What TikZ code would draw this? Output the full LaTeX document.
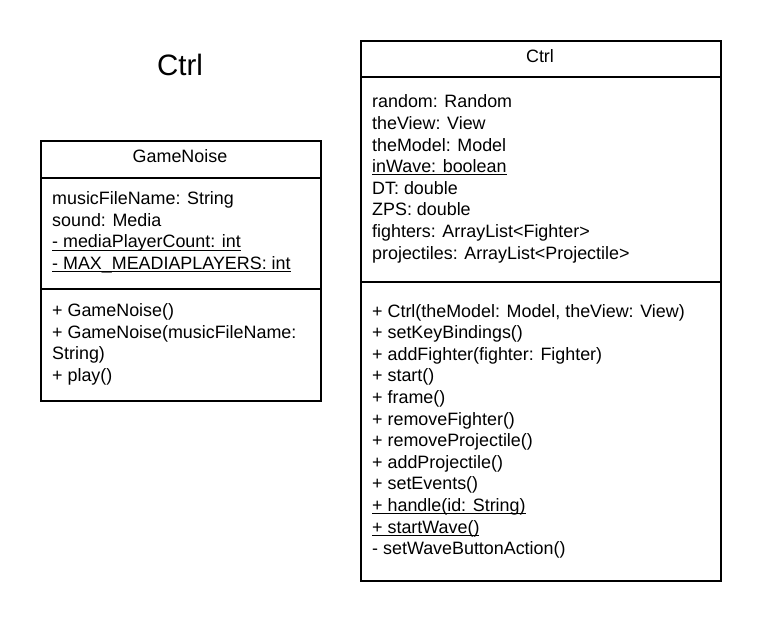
\documentclass[tikz,border=0pt]{standalone}
\usepackage{fontspec}
\setmainfont{Liberation Sans}
\newcommand\myul[1]{\setbox0\hbox{#1}\rlap{\rule[-2.4pt]{\wd0}{0.9pt}}\box0}
\begin{document}
\begin{tikzpicture}[x=1pt,y=-1pt,
  box/.style={draw=black,line width=1.8pt,anchor=north west,inner sep=0pt,fill=white},
  sep/.style={line width=1.8pt},
  txt/.style={anchor=base west,inner sep=0pt,font=\fontsize{17.9}{21.5}\selectfont},
  head/.style={anchor=base,inner sep=0pt,font=\fontsize{17.9}{21.5}\selectfont},
  big/.style={anchor=base,inner sep=0pt,font=\fontsize{29.5}{34}\selectfont}]
\useasboundingbox (0,0) rectangle (760,620);
\fill[white] (0,0) rectangle (760,620);
% title
\node[big] (title) at (180,76) {Ctrl};
% GameNoise class
\node[box,minimum width=280pt,minimum height=260pt] (gn) at (40,140) {};
\draw[sep] (40,178) -- (320,178);
\draw[sep] (40,289) -- (320,289);
\node[head] (gnh) at (180,163) {GameNoise};
\node[txt] (g1) at (52,205) {musicFileName: String};
\node[txt] (g2) at (52,226.5) {sound: Media};
\node[txt] (g3) at (52,248) {\myul{- mediaPlayerCount: int}};
\node[txt] (g4) at (52,269.5) {\myul{- MAX\_MEADIAPLAYERS: int}};
\node[txt] (m1) at (52,316.5) {+ GameNoise()};
\node[txt] (m2) at (52,338) {+ GameNoise(musicFileName:};
\node[txt] (m3) at (52,359.5) {String)};
\node[txt] (m4) at (52,381) {+ play()};
% Ctrl class
\node[box,minimum width=360pt,minimum height=540pt] (ct) at (360,40) {};
\draw[sep] (360,77) -- (720,77);
\draw[sep] (360,282) -- (720,282);
\node[head] (cth) at (540,63) {Ctrl};
\node[txt] (a1) at (372,108) {random: Random};
\node[txt] (a2) at (372,129.6) {theView: View};
\node[txt] (a3) at (372,151.2) {theModel: Model};
\node[txt] (a4) at (372,172.8) {\myul{inWave: boolean}};
\node[txt] (a5) at (372,194.4) {DT: double};
\node[txt] (a6) at (372,216) {ZPS: double};
\node[txt] (a7) at (372,237.6) {fighters: ArrayList<Fighter>};
\node[txt] (a8) at (372,259.2) {projectiles: ArrayList<Projectile>};
\node[txt] (b1) at (372,317) {+ Ctrl(theModel: Model, theView: View)};
\node[txt] (b2) at (372,338.6) {+ setKeyBindings()};
\node[txt] (b3) at (372,360.2) {+ addFighter(fighter: Fighter)};
\node[txt] (b4) at (372,381.8) {+ start()};
\node[txt] (b5) at (372,403.4) {+ frame()};
\node[txt] (b6) at (372,425) {+ removeFighter()};
\node[txt] (b7) at (372,446.6) {+ removeProjectile()};
\node[txt] (b8) at (372,468.2) {+ addProjectile()};
\node[txt] (b9) at (372,489.8) {+ setEvents()};
\node[txt] (b10) at (372,511.4) {\myul{+ handle(id: String)}};
\node[txt] (b11) at (372,533) {\myul{+ startWave()}};
\node[txt] (b12) at (372,554.6) {- setWaveButtonAction()};
\end{tikzpicture}
\end{document}
